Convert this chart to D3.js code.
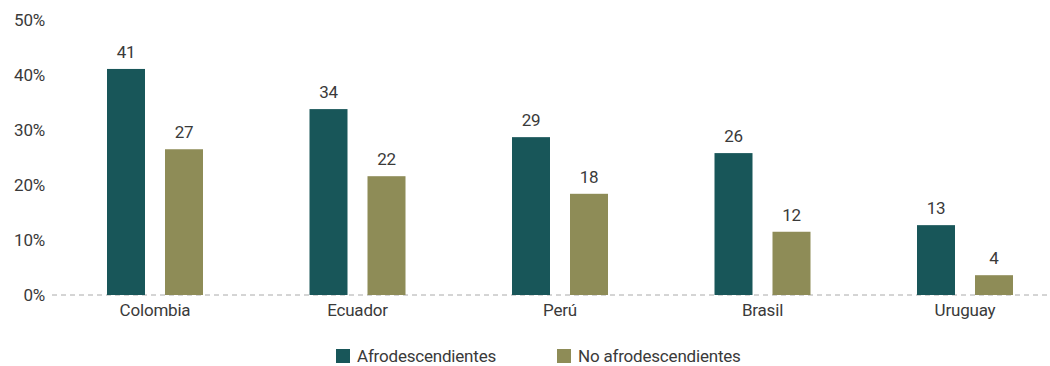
<!DOCTYPE html>
<html><head><meta charset="utf-8">
<script src="https://cdn.jsdelivr.net/npm/d3@7"></script>
<style>
body{margin:0;background:#fff;}
text{font-family:"Liberation Sans Narrow","Roboto","Liberation Sans",sans-serif;fill:#3a3a3a;letter-spacing:-0.2px;}
</style></head>
<body><svg id="c" width="1050" height="366"></svg>
<script>
const categories = ["Colombia","Ecuador","Perú","Brasil","Uruguay"];
const seriesNames = ["Afrodescendientes","No afrodescendientes"];
const afro = [41.1, 33.8, 28.7, 25.8, 12.7];
const noAfro = [26.5, 21.6, 18.4, 11.5, 3.6];
const afroLabels = ["41","34","29","26","13"];
const noAfroLabels = ["27","22","18","12","4"];
const yTicks = [0,10,20,30,40,50];
const colors = ["#185659","#8e8c57"];

const svg = d3.select("#c");
const y = d3.scaleLinear().domain([0,50]).range([295,20]);
const x = d3.scaleBand().domain(categories).range([53.75,1066.25]);
const sub = d3.scaleBand().domain(seriesNames).range([0,96]).paddingInner(20/58);

// baseline dashed
svg.append("line").attr("x1",52).attr("x2",1050).attr("y1",y(0)).attr("y2",y(0))
  .attr("stroke","#aaa").attr("stroke-width",1).attr("stroke-dasharray","5,4");

// y axis labels
const yAxis = d3.axisLeft(y).tickValues(yTicks).tickFormat(d=>d+"%").tickSize(0).tickPadding(0);
const ya = svg.append("g").attr("transform","translate(45,0)").call(yAxis);
ya.select(".domain").remove();
ya.selectAll("text").style("font-size","17px").attr("fill","#3a3a3a").attr("font-family",null);

// x axis labels
const xAxis = d3.axisBottom(x).tickSize(0).tickPadding(0);
const xa = svg.append("g").attr("transform","translate(0,304)").call(xAxis);
xa.select(".domain").remove();
xa.selectAll("text").style("font-size","17px").attr("fill","#3a3a3a").attr("font-family",null);

const data = categories.map((c,i)=>({c, vals:[{s:seriesNames[0],v:afro[i],l:afroLabels[i]},{s:seriesNames[1],v:noAfro[i],l:noAfroLabels[i]}]}));
const g = svg.selectAll("g.grp").data(data).enter().append("g").attr("class","grp")
  .attr("transform",d=>`translate(${x(d.c)+x.bandwidth()/2-48},0)`);
g.selectAll("rect").data(d=>d.vals).enter().append("rect")
  .attr("x",d=>sub(d.s)).attr("width",sub.bandwidth())
  .attr("y",d=>y(d.v)).attr("height",d=>y(0)-y(d.v))
  .attr("fill",(d,i)=>colors[i]);
g.selectAll("text.val").data(d=>d.vals).enter().append("text").attr("class","val")
  .attr("x",d=>sub(d.s)+sub.bandwidth()/2).attr("y",d=>y(d.v)-11)
  .attr("text-anchor","middle").style("font-size","17px").text(d=>d.l);

// legend
const legX = [336,557];
seriesNames.forEach((s,i)=>{
  svg.append("rect").attr("x",legX[i]).attr("y",349).attr("width",14).attr("height",14).attr("fill",colors[i]);
  svg.append("text").attr("x",legX[i]+21).attr("y",362).style("font-size","17px").text(s);
});
</script></body></html>
